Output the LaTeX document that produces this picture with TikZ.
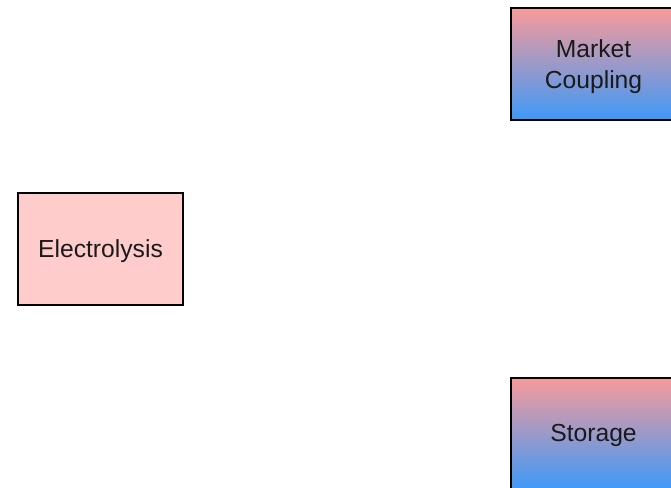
\documentclass[tikz,border=0pt]{standalone}
\usepackage{fontspec}
\setmainfont{Liberation Sans}
\definecolor{pinkfill}{HTML}{FFCCCC}
\definecolor{gradtop}{HTML}{F79A9A}
\definecolor{gradbot}{HTML}{3D99F7}
\definecolor{txt}{HTML}{1A1A1A}
\begin{document}
\begin{tikzpicture}[x=0.75pt,y=-0.75pt,
  box/.style={draw=black, line width=1.5pt, minimum width=123.75pt, minimum height=84pt,
    inner sep=0pt},
  plainbox/.style={box, fill=pinkfill},
  gradbox/.style={box, top color=gradtop, bottom color=gradbot},
  boxtext/.style={inner sep=0pt, align=center, yshift=-1.6pt,
    font=\fontsize{18.5pt}{23.25pt}\selectfont, text=txt}]
\useasboundingbox (0,0) rectangle (671,488);
\clip (0,0) rectangle (671,488);
\node[plainbox] (elec) at (100.5,249) {};
\node[boxtext] (elec-t) at (elec.center) {Electrolysis};
\node[gradbox] (market) at (593.5,64.5) {};
\node[boxtext] (market-t) at (market.center) {Market\\Coupling};
\node[gradbox] (storage) at (593.5,433.5) {};
\node[boxtext] (storage-t) at (storage.center) {Storage};
\end{tikzpicture}
\end{document}
